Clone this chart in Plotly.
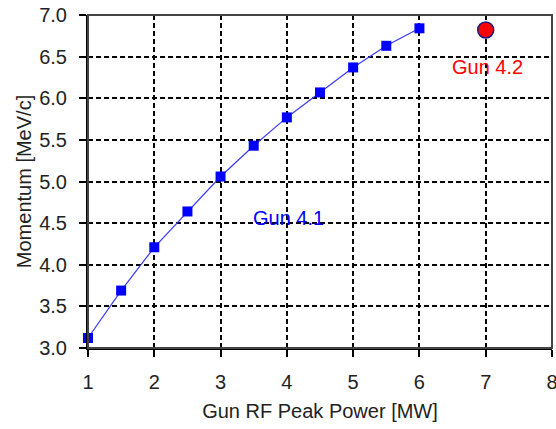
import plotly.graph_objects as go

power_41 = [1, 1.5, 2, 2.5, 3, 3.5, 4, 4.5, 5, 5.5, 6]
momentum_41 = [3.12, 3.69, 4.21, 4.64, 5.06, 5.43, 5.77, 6.07, 6.37, 6.63, 6.84]
power_42 = [7]
momentum_42 = [6.82]
x_ticks = [1, 2, 3, 4, 5, 6, 7, 8]
y_ticks = [3.0, 3.5, 4.0, 4.5, 5.0, 5.5, 6.0, 6.5, 7.0]

FONT = "Liberation Sans, Arial"

fig = go.Figure()
fig.add_trace(go.Scatter(
    x=power_41, y=momentum_41, mode="lines+markers",
    line=dict(color="#3a3aff", width=1.2),
    marker=dict(symbol="square", size=10, color="#0000ff"),
    showlegend=False, cliponaxis=False))
fig.add_trace(go.Scatter(
    x=power_42, y=momentum_42, mode="markers",
    marker=dict(symbol="circle", size=16, color="#ff0000",
                line=dict(color="#1a1a80", width=1.5)),
    showlegend=False, cliponaxis=False))

fig.add_annotation(x=4.02, y=4.56, text="Gun 4.1", showarrow=False,
                   font=dict(color="#0000ff", size=20, family=FONT))
fig.add_annotation(x=7.02, y=6.38, text="Gun 4.2", showarrow=False,
                   font=dict(color="#ff0000", size=20, family=FONT))

fig.add_shape(type="rect", xref="paper", yref="paper", x0=0, y0=0, x1=1, y1=1,
              line=dict(color="#444444", width=2), layer="above")

fig.update_layout(
    width=556, height=429,
    margin=dict(l=88, r=4, t=15, b=81, autoexpand=False),
    paper_bgcolor="white", plot_bgcolor="white",
    font=dict(family=FONT, size=20, color="#222222"),
    xaxis=dict(range=[1, 8], tickvals=x_ticks, ticktext=[str(v) for v in x_ticks],
               showgrid=True, gridcolor="black", griddash="5px,3px", gridwidth=1.5,
               showline=True, linecolor="black", linewidth=2,
               ticks="outside", ticklen=7, tickcolor="black", tickwidth=2,
               zeroline=False, automargin=False, ticklabelstandoff=8,
               ticklabeloverflow="allow",
               title=dict(text="Gun RF Peak Power [MW]", font=dict(size=20), standoff=12)),
    yaxis=dict(range=[3.0, 7.0], tickvals=y_ticks, ticktext=[f"{v:.1f}" for v in y_ticks],
               showgrid=True, gridcolor="black", griddash="5px,3px", gridwidth=1.5,
               showline=True, linecolor="black", linewidth=2,
               ticks="outside", ticklen=7, tickcolor="black", tickwidth=2,
               zeroline=False, automargin=False, ticklabelstandoff=8,
               ticklabeloverflow="allow",
               title=dict(text="Momentum [MeV/c]", font=dict(size=20), standoff=2)),
)

fig.write_html("out.html", config={"displayModeBar": False},
               post_script="document.body.style.margin='0';")
